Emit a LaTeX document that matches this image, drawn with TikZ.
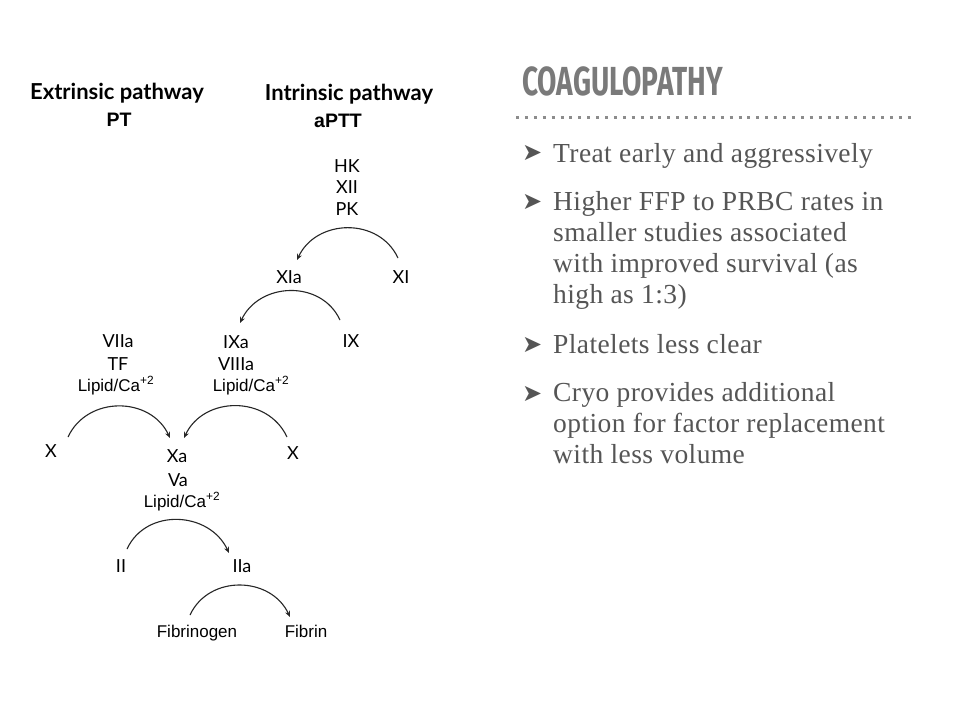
\documentclass[tikz,border=0pt]{standalone}
\usepackage{fontspec}
\usepackage{graphicx}
\setmainfont{Liberation Serif}
\newfontfamily\latofam{Lato}
\newfontfamily\arialfam{Liberation Sans}
\newfontfamily\titlefam{Fira Sans}
\newfontfamily\symfam{DejaVu Sans}
\usetikzlibrary{arrows.meta,positioning}
\definecolor{slidegrey}{HTML}{555555}
\definecolor{titlegrey}{HTML}{7A7A7A}

\begin{document}
\begin{tikzpicture}[x=1pt,y=1pt,
  fac/.style={font=\latofam\fontsize{18}{20}\selectfont, inner sep=0pt, anchor=base},
  lip/.style={font=\arialfam\fontsize{17}{19}\selectfont, inner sep=0pt, anchor=base},
  head/.style={font=\latofam\bfseries\fontsize{22}{24}\selectfont, inner sep=0pt, anchor=base},
  test/.style={font=\arialfam\bfseries\fontsize{19.5}{22}\selectfont, inner sep=0pt, anchor=base},
  conv/.style={-{Stealth[length=6pt,width=5pt]}, line width=1.1pt, black!85},
  over/.style={out=65,in=115,looseness=1.15},
  back/.style={out=115,in=65,looseness=1.15},
  bul/.style={font=\symfam\fontsize{24}{26}\selectfont, text=slidegrey, inner sep=0pt, anchor=base west},
  item/.style={font=\addfontfeature{LetterSpace=1.5}\fontsize{27.5}{31}\selectfont, text=slidegrey, inner sep=0pt, anchor=base west, align=left}]
\fill[white] (0,0) rectangle (960,-720);

% pathway headings
\node[head] (ext) at (117,-99) {Extrinsic pathway};
\node[test] (pt) at (119,-126) {PT};
\node[head] (int) at (349,-100) {Intrinsic pathway};
\node[test] (aptt) at (338,-127) {aPTT};

% intrinsic cascade
\node[fac] (hk) at (347,-172) {HK};
\node[fac] (xii) at (347,-193) {XII};
\node[fac] (pk) at (347,-215) {PK};
\node[fac] (xia) at (289,-283) {XIa};
\node[fac] (xi) at (401,-283) {XI};
\node[fac] (ixa) at (236,-348) {IXa};
\node[fac] (ix) at (351,-347) {IX};
\node[fac] (viiia) at (236,-370) {VIIIa};
\node[lip] (lipint) at (251,-391) {Lipid/Ca\textsuperscript{+2}};

% extrinsic complex
\node[fac] (viia) at (118,-347) {VIIa};
\node[fac] (tf) at (118,-370) {TF};
\node[lip] (lipext) at (116,-391) {Lipid/Ca\textsuperscript{+2}};

% common pathway
\node[fac] (xl) at (51,-457) {X};
\node[fac] (xa) at (177,-462) {Xa};
\node[fac] (xr) at (293,-459) {X};
\node[fac] (va) at (178,-486) {Va};
\node[lip] (lipcom) at (182,-507) {Lipid/Ca\textsuperscript{+2}};
\node[fac] (ii) at (121,-572) {II};
\node[fac] (iia) at (242,-572) {IIa};
\node[lip] (fbg) at (197,-637) {Fibrinogen};
\node[lip] (fbn) at (306,-637) {Fibrin};

\draw[conv] ([shift={(-3,25)}]xi.base) to[back] ([shift={(8,23)}]xia.base);
\draw[conv] ([shift={(-11,27)}]ix.base) to[back] ([shift={(4,25)}]ixa.base);
\draw[conv] ([shift={(17,20)}]xl.base) to[over] ([shift={(-7,24)}]xa.base);
\draw[conv] ([shift={(-6,22)}]xr.base) to[back] ([shift={(7,24)}]xa.base);
\draw[conv] ([shift={(6,23)}]ii.base) to[over] ([shift={(-13,19)}]iia.base);
\draw[conv] ([shift={(-7,22)}]fbg.base) to[over] ([shift={(-16,20)}]fbn.base);

% slide text
\node[anchor=base west, inner sep=0pt, text=titlegrey, font=\titlefam\bfseries\fontsize{40.6}{44}\selectfont]
  (ttl) at (522,-95) {\scalebox{0.69}[1]{COAGULOPATHY}};
\draw[black!45, line width=3pt, dash pattern=on 3pt off 5.9pt] (516,-117) -- (916,-117);

\node[bul] (b1) at (522,-160) {➤};
\node[item] (t1) at (553,-162) {Treat early and aggressively};
\node[bul] (b2) at (522,-209) {➤};
\node[item] (t2) at (553,-303) {Higher FFP to PRBC rates in\\smaller studies associated\\with improved survival (as\\high as 1:3)};
\node[bul] (b3) at (522,-352) {➤};
\node[item] (t3) at (553,-353) {Platelets less clear};
\node[bul] (b4) at (522,-401) {➤};
\node[item] (t4) at (553,-463) {Cryo provides additional\\option for factor replacement\\with less volume};
\end{tikzpicture}
\end{document}
